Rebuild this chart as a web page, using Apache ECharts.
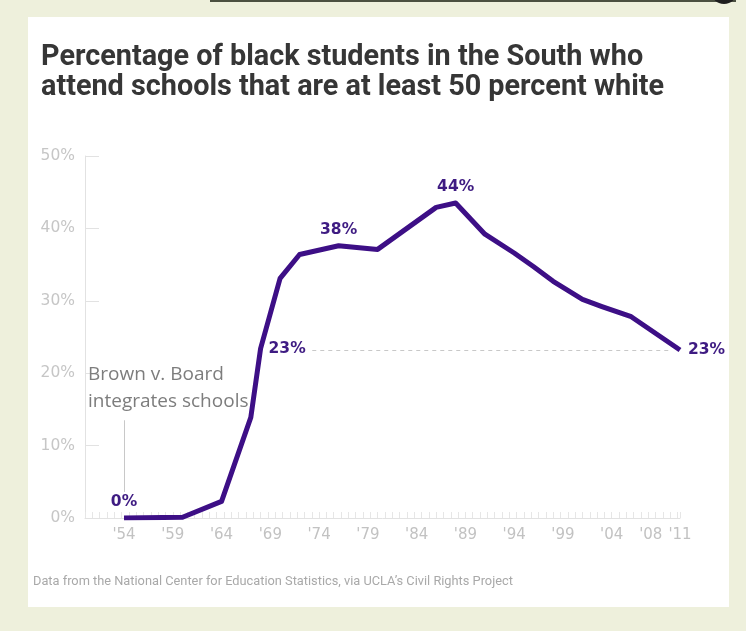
<!DOCTYPE html>
<html>
<head>
<meta charset="utf-8">
<script src="https://cdn.jsdelivr.net/npm/echarts@6/dist/echarts.min.js"></script>
<style>
  html, body { margin: 0; padding: 0; background: #eef0dc; }
  #chart { width: 746px; height: 631px; }
</style>
</head>
<body>
<div id="chart"></div>
<script>
  // values (percent of black students, South)
  const years = [1954, 1960, 1964, 1967, 1968, 1970, 1972, 1976, 1980, 1986, 1988, 1991, 1994, 1996, 1998, 2001, 2003, 2006, 2011];
  const shares = [0.001, 0.1, 2.3, 13.9, 23.4, 33.1, 36.4, 37.6, 37.1, 42.9, 43.5, 39.2, 36.6, 34.7, 32.7, 30.2, 29.2, 27.8, 23.2];

  // which points carry a value label, and where
  const labelled = { 1954: "top", 1968: "right", 1976: "top", 1988: "top", 2011: "right" };

  const tickYears = [1954, 1959, 1964, 1969, 1974, 1979, 1984, 1989, 1994, 1999, 2004, 2008, 2011];
  const yTicks = [0, 10, 20, 30, 40, 50];

  const titleText = "Percentage of black students in the South who\nattend schools that are at least 50 percent white";
  const noteText = "Brown v. Board\nintegrates schools";
  const sourceText = "Data from the National Center for Education Statistics, via UCLA\u2019s Civil Rights Project";

  const PURPLE = "#3d0f86";
  const LABEL = "#3e1b82";

  const chart = echarts.init(document.getElementById("chart"));

  const points = years.map((y, i) => {
    const item = { value: [y, shares[i]] };
    if (labelled[y]) {
      item.label = {
        show: true,
        position: labelled[y],
        distance: labelled[y] === "right" ? 8 : 8,
        formatter: (p) => Math.round(p.value[1]) + "%"
      };
    }
    return item;
  });

  chart.setOption({
    backgroundColor: "#eef0dc",
    animation: false,
    graphic: [
      { type: "rect", shape: { x: 210, y: 0, width: 526, height: 2 }, style: { fill: "#4b5040" }, z: 0 },
      { type: "circle", shape: { cx: 724, cy: -9, r: 13 }, style: { fill: "#1e1e1e" }, z: 0 },
      { type: "rect", shape: { x: 28, y: 17, width: 701, height: 590 }, style: { fill: "#ffffff" }, z: -10 },
      {
        type: "text", left: 41, top: 43, z: 10,
        style: {
          text: titleText, fill: "#363636",
          font: "bold 28.8px Roboto, 'Liberation Sans', sans-serif", lineHeight: 30
        }
      },
      {
        type: "text", left: 88, top: 361, z: 10,
        style: {
          text: noteText, fill: "#7d7d7d",
          font: "19px 'Open Sans', sans-serif", lineHeight: 27
        }
      },
      {
        type: "text", left: 33, top: 575, z: 10,
        style: { text: sourceText, fill: "#a9a9a9", font: "12.8px Roboto, sans-serif" }
      }
    ],
    grid: { left: 85, right: 66, top: 156, bottom: 113 },
    xAxis: [
      {
        type: "value", min: 1950, max: 2011, interval: 1,
        splitLine: { show: false },
        axisLine: { lineStyle: { color: "#e2e2e2" } },
        axisTick: { show: false },
        axisLabel: {
          color: "#c2c2c2", fontSize: 15, margin: 10,
          fontFamily: "'DejaVu Sans', sans-serif",
          formatter: (v) => tickYears.indexOf(v) >= 0 ? "'" + String(v).slice(2) : ""
        }
      },
      {
        type: "value", min: 1950, max: 2011, interval: 0.75, position: "bottom",
        splitLine: { show: false },
        axisLine: { show: false },
        axisLabel: { show: false },
        axisTick: { inside: true, length: 6, lineStyle: { color: "#e6e6e6" } }
      }
    ],
    yAxis: {
      type: "value", min: 0, max: 50, interval: 10,
      splitLine: { show: false },
      axisLine: { show: true, lineStyle: { color: "#e2e2e2" } },
      axisTick: { show: true, inside: true, length: 14, lineStyle: { color: "#e2e2e2" } },
      axisLabel: {
        color: "#c6c6c6", fontSize: 15.5, margin: 10,
        fontFamily: "'DejaVu Sans', sans-serif",
        formatter: (v) => yTicks.indexOf(v) >= 0 ? v + "%" : ""
      }
    },
    series: [
      {
        type: "line",
        data: points,
        showSymbol: true,
        symbol: "circle",
        symbolSize: 0,
        lineStyle: { color: PURPLE, width: 5, join: "round" },
        itemStyle: { color: PURPLE },
        label: {
          color: LABEL, fontSize: 15.5, fontWeight: "bold",
          fontFamily: "'DejaVu Sans', sans-serif"
        },
        markLine: {
          silent: true, symbol: "none",
          label: { show: false },
          data: [
            [
              { coord: [1973.3, 23.2], lineStyle: { color: "#c8c8c8", type: [4, 4], width: 1 } },
              { coord: [2009.8, 23.2] }
            ],
            [
              { coord: [1954, 13.5], lineStyle: { color: "#c8c8c8", type: "solid", width: 1 } },
              { coord: [1954, 3.6] }
            ]
          ]
        },
        z: 5
      }
    ]
  });
</script>
</body>
</html>
